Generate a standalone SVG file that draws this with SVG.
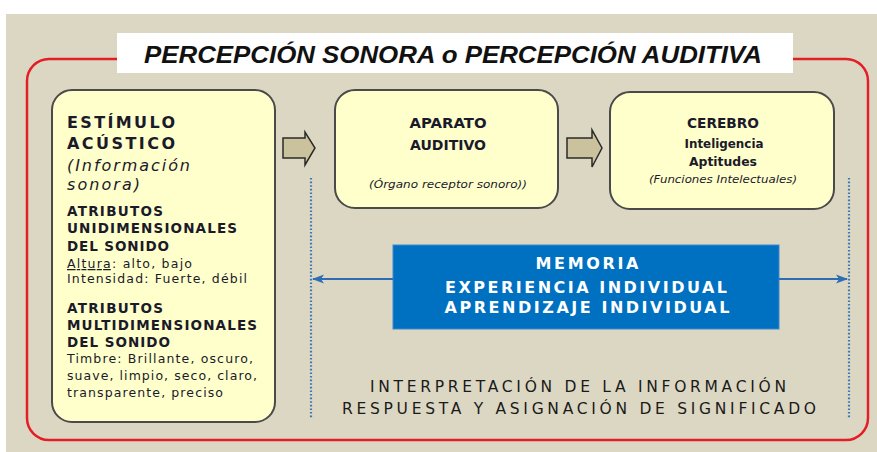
<svg xmlns="http://www.w3.org/2000/svg" width="877" height="452" viewBox="0 0 877 452">
<style>
.box{fill:#FFFFCC;stroke:#4a4a4a;stroke-width:2}
.arr{fill:#C9C29C;stroke:#2a2a2a;stroke-width:1.5}
.t{font-family:"DejaVu Sans",Verdana,sans-serif;fill:#1a1a2a}
.b{font-weight:bold}
.i{font-style:italic}
.h{font-size:16px}
.s{font-size:13.5px}
.r{font-size:12.5px}
.c{font-family:"DejaVu Sans",Verdana,sans-serif;text-anchor:middle;fill:#1a1a2a}
.w{font-family:"DejaVu Sans",Verdana,sans-serif;font-weight:bold;font-size:16px;fill:#ffffff;text-anchor:middle}
.dot{stroke:#3A78B8;stroke-width:2.2;stroke-dasharray:1.6 2;fill:none}
.bl{stroke:#2E6DB4;stroke-width:2;fill:none}
</style>
<defs>
<marker id="ah" markerWidth="12" markerHeight="12" refX="11" refY="6" orient="auto-start-reverse" markerUnits="userSpaceOnUse">
<path d="M0,1.5 L12,6 L0,10.5 L3,6 Z" fill="#2E6DB4"/>
</marker>
</defs>
<rect x="0" y="0" width="877" height="452" fill="#ffffff"/>
<rect x="6" y="14" width="871" height="438" fill="#DCD7C3"/>
<rect x="27" y="59" width="841" height="381" rx="22" ry="22" fill="none" stroke="#E41E26" stroke-width="2.5"/>
<g id="title">
<rect x="117" y="33" width="676" height="40" fill="#ffffff"/>
<text x="144" y="63" font-family="Liberation Sans,Arial,sans-serif" font-weight="bold" font-style="italic" font-size="23" fill="#111" textLength="618" lengthAdjust="spacingAndGlyphs">PERCEPCIÓN SONORA o PERCEPCIÓN AUDITIVA</text>
</g>
<g id="estimulo">
<rect class="box" x="52" y="90" width="223" height="332" rx="20" ry="20"/>
<text class="t b h" x="67" y="128" textLength="108" lengthAdjust="spacing">ESTÍMULO</text>
<text class="t b h" x="67" y="149" textLength="108" lengthAdjust="spacing">ACÚSTICO</text>
<text class="t i h" x="67" y="171" textLength="123" lengthAdjust="spacing">(Información</text>
<text class="t i h" x="67" y="190" textLength="73" lengthAdjust="spacing">sonora)</text>
<text class="t b s" x="67" y="216" textLength="96" lengthAdjust="spacing">ATRIBUTOS</text>
<text class="t b s" x="67" y="233" textLength="170" lengthAdjust="spacing">UNIDIMENSIONALES</text>
<text class="t b s" x="67" y="251" textLength="102" lengthAdjust="spacing">DEL SONIDO</text>
<text class="t r" x="67" y="268" textLength="125" lengthAdjust="spacing"><tspan text-decoration="underline">Altura</tspan>: alto, bajo</text>
<text class="t r" x="67" y="283" textLength="180" lengthAdjust="spacing">Intensidad: Fuerte, débil</text>
<text class="t b s" x="67" y="313" textLength="96" lengthAdjust="spacing">ATRIBUTOS</text>
<text class="t b s" x="67" y="330" textLength="190" lengthAdjust="spacing">MULTIDIMENSIONALES</text>
<text class="t b s" x="67" y="347" textLength="103" lengthAdjust="spacing">DEL SONIDO</text>
<text class="t r" x="67" y="363" textLength="186" lengthAdjust="spacing">Timbre: Brillante, oscuro,</text>
<text class="t r" x="67" y="380" textLength="190" lengthAdjust="spacing">suave, limpio, seco, claro,</text>
<text class="t r" x="67" y="397" textLength="156" lengthAdjust="spacing">transparente, preciso</text>
</g>
<g id="aparato">
<rect class="box" x="335" y="90" width="223" height="118" rx="20" ry="20"/>
<text class="c b" x="448" y="128" font-size="14" textLength="77" lengthAdjust="spacingAndGlyphs">APARATO</text>
<text class="c b" x="448" y="150" font-size="14" textLength="76" lengthAdjust="spacingAndGlyphs">AUDITIVO</text>
<text class="c i" x="448" y="188" font-size="10" textLength="158" lengthAdjust="spacingAndGlyphs">(Órgano receptor sonoro))</text>
</g>
<g id="cerebro">
<rect class="box" x="610" y="92" width="224" height="117" rx="20" ry="20"/>
<text class="c b" x="723" y="128" font-size="14" textLength="72" lengthAdjust="spacingAndGlyphs">CEREBRO</text>
<text class="c" x="724" y="148" font-size="13" font-weight="600" fill="#1a1a4a" textLength="79" lengthAdjust="spacingAndGlyphs">Inteligencia</text>
<text class="c" x="723" y="166" font-size="13" font-weight="600" fill="#1a1a4a" textLength="68" lengthAdjust="spacingAndGlyphs">Aptitudes</text>
<text class="c i" x="723" y="183" font-size="10" textLength="148" lengthAdjust="spacingAndGlyphs">(Funciones Intelectuales)</text>
</g>
<g id="memoria">
<rect x="393" y="245" width="386" height="84" fill="#0070C0" stroke="#3F87CC" stroke-width="1"/>
<text class="w" x="587" y="269" textLength="103" lengthAdjust="spacing">MEMORIA</text>
<text class="w" x="586" y="293" textLength="282" lengthAdjust="spacing">EXPERIENCIA INDIVIDUAL</text>
<text class="w" x="587" y="313" textLength="285" lengthAdjust="spacing">APRENDIZAJE INDIVIDUAL</text>
</g>
<g id="interpretacion">
<text x="578" y="392" font-family="DejaVu Sans,Verdana,sans-serif" font-size="15.5" fill="#1a1a1a" text-anchor="middle" textLength="416" lengthAdjust="spacing">INTERPRETACIÓN DE LA INFORMACIÓN</text>
<text x="579" y="414" font-family="DejaVu Sans,Verdana,sans-serif" font-size="15.5" fill="#1a1a1a" text-anchor="middle" textLength="474" lengthAdjust="spacing">RESPUESTA Y ASIGNACIÓN DE SIGNIFICADO</text>
</g>
<g id="connectors">
<path class="arr" d="M283,138 H305 V132 L315,148 L305,165 V158 H283 Z"/>
<path class="arr" d="M567,138 H592 V130 L602,148 L592,167 V158 H567 Z"/>
<line class="dot" x1="311" y1="178" x2="311" y2="418"/>
<line class="dot" x1="849" y1="178" x2="849" y2="418"/>
<line class="bl" x1="393" y1="279" x2="313" y2="279" marker-end="url(#ah)"/>
<line class="bl" x1="779" y1="279" x2="847" y2="279" marker-end="url(#ah)"/>
</g>
</svg>
